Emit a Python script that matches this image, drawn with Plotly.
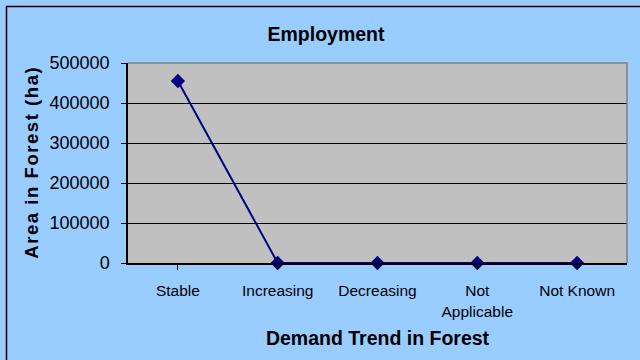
import plotly.graph_objects as go

# Demand trend categories and the forest area reported for each
categories = ["Stable", "Increasing", "Decreasing", "Not<br>Applicable", "Not Known"]
area_ha = [455000, 0, 0, 0, 0]
y_ticks = [0, 100000, 200000, 300000, 400000, 500000]

# Plot area in pixels (640x360 page)
W, H = 640, 360
L, R, T, B = 128, 627, 63, 263

def spaced(s, gap="\u200a"):
    """Letter-spaced text using hair spaces between glyphs."""
    return gap.join(s)

fig = go.Figure()
fig.add_trace(go.Scatter(
    x=list(range(len(categories))),
    y=area_ha,
    mode="lines+markers",
    line=dict(color="#000080", width=2),
    marker=dict(symbol="diamond", size=11, color="#000080"),
    showlegend=False,
    cliponaxis=False,
))

def px_x(p):
    return (p - L) / (R - L)

def px_y(p):
    return (B - p) / (B - T)

fig.update_layout(
    width=W, height=H,
    margin=dict(l=L, r=W - R, t=T, b=H - B),
    paper_bgcolor="#99CCFF",
    plot_bgcolor="#C0C0C0",
    font=dict(family="Liberation Sans, Arial, sans-serif", color="#000000"),
    title=dict(
        text="<b>Employment</b>",
        x=326 / W, xanchor="center",
        y=1 - 34 / H, yanchor="middle",
        font=dict(size=19.5),
    ),
    xaxis=dict(
        range=[-0.5, len(categories) - 0.5],
        tickmode="array",
        tickvals=list(range(len(categories))),
        ticktext=categories,
        tickson="boundaries",
        ticks="outside", ticklen=5, tickcolor="#000000", tickwidth=1,
        showgrid=False, zeroline=False,
        showline=True, linecolor="#000000", linewidth=1.5,
        tickfont=dict(size=15.5),
        ticklabelstandoff=8,
        title=dict(text="<b>Demand Trend in Forest</b>", font=dict(size=19.5), standoff=13),
    ),
    yaxis=dict(
        range=[0, 500000],
        tickmode="array",
        tickvals=y_ticks,
        tickformat="d",
        ticks="outside", ticklen=5, tickcolor="#000000", tickwidth=1,
        showgrid=True, gridcolor="#000000", gridwidth=1,
        zeroline=True, zerolinecolor="#000000", zerolinewidth=1.5,
        showline=True, linecolor="#000000", linewidth=1.5,
        tickfont=dict(size=18),
        ticklabelstandoff=8,
        title=dict(text="<b>" + spaced("Area in Forest (ha)") + "</b>",
                   font=dict(size=18.5), standoff=6),
    ),
    shapes=[
        # top and right border of the plot area
        dict(type="path", xref="paper", yref="paper",
             path="M 0 1 L 1 1 L 1 0",
             line=dict(color="#808080", width=1.5), layer="above"),
        # chart frame
        dict(type="rect", xref="paper", yref="paper",
             x0=px_x(6.5), x1=px_x(W + 10), y0=px_y(H + 10), y1=px_y(6.5),
             line=dict(color="#000000", width=1.5), layer="above"),
    ],
)

fig.write_html("out.html")
